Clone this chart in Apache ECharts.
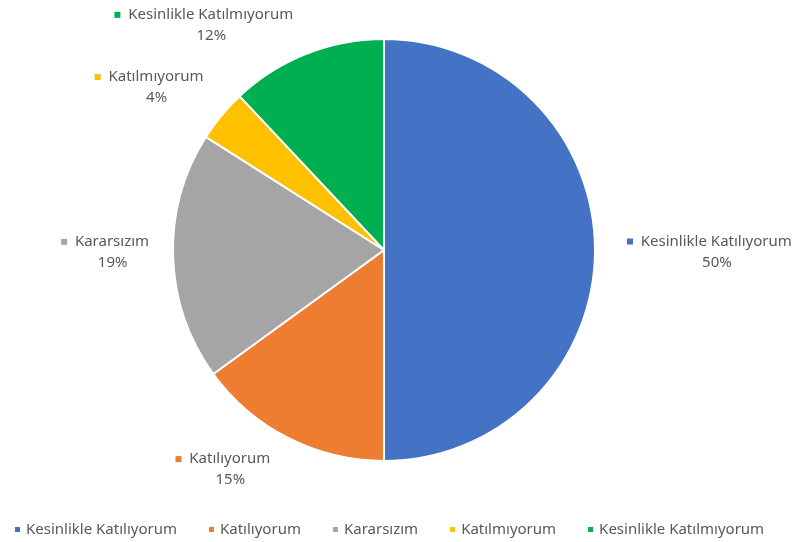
<!DOCTYPE html>
<html>
<head>
<meta charset="utf-8">
<script src="https://cdn.jsdelivr.net/npm/echarts@6/dist/echarts.min.js"></script>
<style>
  html, body { margin: 0; padding: 0; background: #fff; }
  #chart { width: 796px; height: 542px; }
</style>
</head>
<body>
<div id="chart"></div>
<script>
// answers and their shares (%)
const categories = ['Kesinlikle Katılıyorum', 'Katılıyorum', 'Kararsızım', 'Katılmıyorum', 'Kesinlikle Katılmıyorum'];
const values = [50, 15, 19, 4, 12];
const colors = ['#4472C4', '#ED7D31', '#A5A5A5', '#FFC000', '#00B050'];

const textColor = '#595959';
const font = 'Noto Sans';

// small nudges so the outside labels sit where excel put them
const labelNudge = [[4, 2], [-2, 12], [4, -5], [5, -14], [1, -8]];

// one rich style per slice, for the little coloured square in front of the label
const rich = {
    t: { color: textColor, fontSize: 15, fontFamily: font, lineHeight: 21 },
    // percent sits under the name, not under square + name
    p: { color: textColor, fontSize: 15, fontFamily: font, lineHeight: 21, padding: [0, 0, 0, 15] }
};
colors.forEach((c, i) => {
    rich['k' + i] = { width: 6, height: 6, backgroundColor: c };
});

const chart = echarts.init(document.getElementById('chart'));
chart.setOption({
    animation: false,
    color: colors,
    legend: {
        bottom: 0,
        left: 8,
        icon: 'rect',
        itemWidth: 7,
        itemHeight: 7,
        itemGap: 30,
        textStyle: { color: textColor, fontSize: 15, fontFamily: font },
        data: categories
    },
    series: [{
        type: 'pie',
        center: [384, 250],
        radius: 211,
        startAngle: 90,
        clockwise: true,
        avoidLabelOverlap: false,
        itemStyle: { borderColor: '#fff', borderWidth: 2 },
        label: {
            show: true,
            position: 'outside',
            formatter: p => '{k' + p.dataIndex + '|}{t|  ' + p.name + '}\n{p|' + Math.round(p.percent) + '%}',
            rich: rich
        },
        labelLine: { show: false, length: 22, length2: 1 },
        // keep the library's anchor, centre the two-line text on it
        labelLayout: p => {
            const n = labelNudge[p.dataIndex] || [0, 0];
            return {
                x: p.labelRect.x + p.labelRect.width / 2 + n[0],
                y: p.labelRect.y + p.labelRect.height / 2 + n[1],
                align: 'center',
                verticalAlign: 'middle'
            };
        },
        data: categories.map((name, i) => ({ name: name, value: values[i] }))
    }]
});
</script>
</body>
</html>
